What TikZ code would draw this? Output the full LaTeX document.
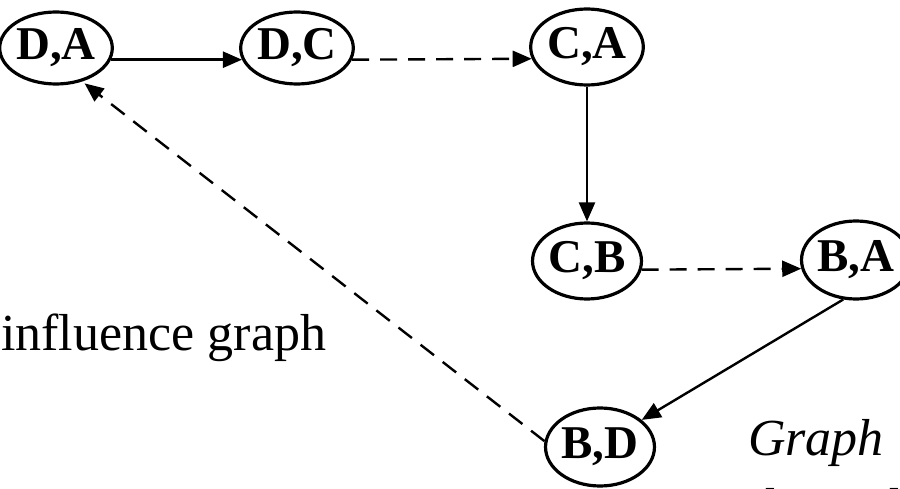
\documentclass[tikz,border=0pt]{standalone}
\usepackage{fontspec}
\setmainfont{Liberation Serif}
\usetikzlibrary{arrows.meta,shapes.geometric}
\tikzset{
  pairnode/.style={draw, ellipse, line width=3.2pt, inner sep=0pt,
    minimum width=96pt, minimum height=74pt,
    font=\fontsize{47}{52}\selectfont\bfseries},
  link/.style={line width=2.4pt, -{Triangle[length=19pt,width=16pt]}},
  dlink/.style={link, dash pattern=on 17pt off 11pt},
  plaintext/.style={inner sep=0pt, font=\fontsize{52}{60}\selectfont}
}
\begin{document}
\begin{tikzpicture}[x=1pt,y=-1pt]
\clip (0,0) rectangle (900,489);
\fill[white] (0,0) rectangle (900,489);
\node[pairnode, minimum width=104pt, minimum height=72pt] (DA) at (56,48) {D,A};
\node[pairnode, minimum height=72pt] (DC) at (297,48) {D,C};
\node[pairnode, minimum width=94pt, minimum height=76pt] (CA) at (587,47) {C,A};
\node[pairnode, minimum height=76pt] (CB) at (587,261) {C,B};
\node[pairnode, minimum width=88pt, minimum height=78pt] (BA) at (856,260) {B,A};
\node[pairnode, minimum width=90pt, minimum height=78pt] (BD) at (600,447) {B,D};
\draw[link] (DA.-12) -- (DC.192);
\draw[dlink] (DC.-12) -- (CA.192);
\draw[link] (CA.south) -- (CB.north);
\draw[dlink] (CB.-9) -- (BA.189);
\draw[link] (BA.252) -- (BD.33);
\draw[dlink, shorten >=3pt] (BD.174) -- (DA.308);
\node[plaintext, anchor=base west] (infl) at (1,350) {influence graph};
\node[plaintext, anchor=base west, font=\fontsize{52}{60}\selectfont\itshape] (gr) at (748,455) {Graph};
\node[plaintext, anchor=base west, font=\fontsize{52}{60}\selectfont\itshape] (dep) at (748,524) {dependency};
\end{tikzpicture}
\end{document}
